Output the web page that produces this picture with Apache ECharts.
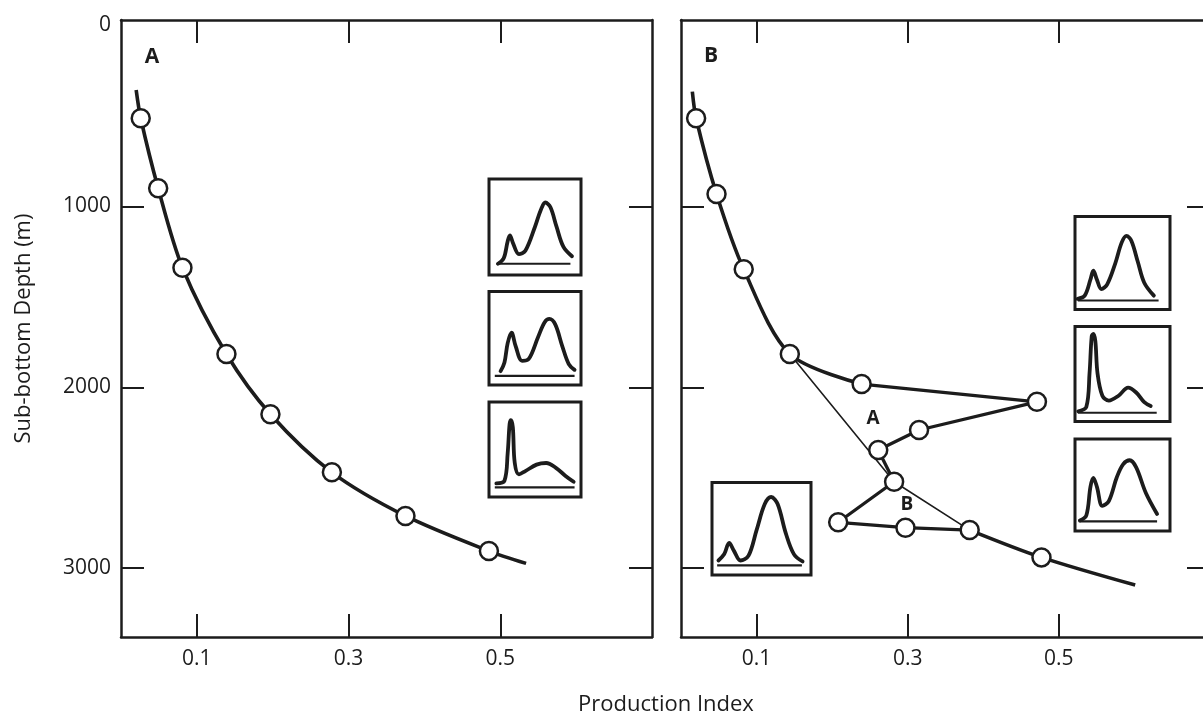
<!DOCTYPE html>
<html>
<head>
<meta charset="utf-8">
<script src="https://cdn.jsdelivr.net/npm/echarts@6/dist/echarts.min.js"></script>
<style>
  html, body { margin: 0; padding: 0; background: #ffffff; }
  #chart { width: 1203px; height: 717px; }
</style>
</head>
<body>
<div id="chart"></div>
<script>
// ---- Axis ticks and labels ----
const depthTicks = [1000, 2000, 3000];
const depthLabels = [0, 1000, 2000, 3000];
const indexTicks = [0.1, 0.3, 0.5];

// ---- Panel A: production index samples with depth (m) ----
const wellA_index = [0.026, 0.049, 0.081, 0.139, 0.197, 0.278, 0.375, 0.485];
const wellA_depth = [513, 900, 1339, 1816, 2149, 2470, 2711, 2905];
const wellA_curveTop = [0.020, 357];
const wellA_curveBottom = [0.534, 2973];

// ---- Panel B: samples in depth order (with the two excursions) ----
const wellB_index = [0.020, 0.047, 0.083, 0.144, 0.239, 0.471, 0.315, 0.261, 0.282, 0.208, 0.297, 0.382, 0.477];
const wellB_depth = [513, 932, 1348, 1816, 1982, 2080, 2236, 2346, 2522, 2746, 2776, 2789, 2940];
const wellB_curveTop = [0.015, 366];
const wellB_curveBottom = [0.601, 3093];
// normal trend across the excursions
const wellB_trendIndex = [0.144, 0.282, 0.382];
const wellB_trendDepth = [1816, 2522, 2789];
// zone labels
const zoneNames = ['A', 'B'];
const zoneIndex = [0.254, 0.299];
const zoneDepth = [2171, 2647];

// ---- Pyrolysis traces for the inset boxes: [x, signal] in box units (0-100) ----
const traceA1 = [[9.8,11.7],[16,17.4],[20.3,35.2],[22.7,41.3],[26.2,32.9],[32.5,21.8],[39.5,25.2],[50,50.3],[56.3,67.8],[61.2,75.5],[66.8,70.5],[73.4,50.3],[80.8,29.5],[90.2,19.5]];
const traceA2 = [[12.6,14.8],[16.8,24.1],[20.3,44.8],[24.5,55.9],[29,41.4],[36,25.9],[43,27.6],[53.5,51.7],[60.5,67.2],[65.7,70.7],[72,64.8],[79.7,41.4],[86.7,22.4],[93,16.2]];
const traceA3 = [[8,14.3],[16.8,17.1],[20.3,46.1],[22.4,76.8],[23.8,80.9],[25.9,73.4],[28,35.8],[32.5,23.9],[39.5,27.3],[51.7,34.1],[62.2,35.8],[72.7,30.7],[83.2,22.2],[92,16]];
const traceB1 = [[2.7,11.5],[10.2,14.9],[16.3,32.3],[19.3,41.7],[23,32.3],[27.8,21.9],[33.9,27.1],[42.4,49.7],[49.2,72.2],[54.2,79.2],[59.3,74],[66.1,51.4],[72.9,28.8],[83,14.9]];
const traceB2 = [[3.4,10.8],[11.9,15.3],[15.3,50.8],[17.6,89.8],[19.3,92.2],[21.4,84.7],[23.7,50.8],[28.8,27.1],[35.6,22],[45.8,27.1],[55.9,35.6],[64.4,30.5],[72.9,20.3],[79.7,16.3]];
const traceB3 = [[5.1,11.5],[11.9,16.8],[16.3,48.3],[19.3,57.7],[23,48.3],[28.8,27.3],[35.6,32.5],[44.1,58.7],[50.8,72.7],[57.6,76.9],[64.4,69.2],[74.6,41.3],[86.4,18.5]];
const traceB4 = [[6.5,15.7],[12.4,22.6],[17.3,34.8],[22.2,26.1],[28.8,15.7],[36.9,20.9],[45.1,48.8],[53.3,76.7],[59.8,84.3],[66.3,76.7],[74.5,45.3],[82.7,22.6],[91.5,14.6]];
// baselines: [level, from, to]
const baseA1 = [11.7, 8, 88.5];
const baseA2 = [9.7, 6.3, 93];
const baseA3 = [10.2, 6.3, 93];
const baseB1 = [9.7, 3, 88];
const baseB2 = [9.2, 3, 86];
const baseB3 = [10.5, 5, 86.4];
const baseB4 = [10.5, 5.2, 90.8];

// ---- styling ----
const ink = '#1c1c1c';
const font = "'Open Sans', 'Noto Sans', sans-serif";

const pairs = (xs, ys) => xs.map((x, i) => [x, ys[i]]);
const pointsA = pairs(wellA_index, wellA_depth);
const pointsB = pairs(wellB_index, wellB_depth);

// main panels
const panels = [
  { left: 121, top: 20, width: 531, height: 617, labels: true },
  { left: 681, top: 20, width: 529, height: 617, labels: false }
];
// inset boxes
const insets = [
  { left: 489, top: 179, width: 92, height: 96, trace: traceA1, base: baseA1 },
  { left: 489, top: 291.5, width: 92, height: 93.5, trace: traceA2, base: baseA2 },
  { left: 489, top: 402, width: 92, height: 95, trace: traceA3, base: baseA3 },
  { left: 1075, top: 216.5, width: 95, height: 93, trace: traceB1, base: baseB1 },
  { left: 1075, top: 326.5, width: 95, height: 95, trace: traceB2, base: baseB2 },
  { left: 1075, top: 439, width: 95, height: 92, trace: traceB3, base: baseB3 },
  { left: 712, top: 482.5, width: 99, height: 92.5, trace: traceB4, base: baseB4 }
];

const grid = [], xAxis = [], yAxis = [], series = [];

const frameLine = { show: true, onZero: false, lineStyle: { color: ink, width: 2.5 } };
const tickStyle = (vals) => ({ show: true, inside: true, length: 23, customValues: vals, lineStyle: { color: ink, width: 2 } });
const labelStyle = { color: ink, fontSize: 21, fontFamily: font, formatter: (v) => String(v) };

panels.forEach((p, gi) => {
  grid.push({ left: p.left, top: p.top, width: p.width, height: p.height, outerBoundsMode: 'none', containLabel: false });
  // bottom and top index axes
  xAxis.push({
    type: 'value', gridIndex: gi, position: 'bottom', min: 0, max: 0.70,
    axisLine: frameLine, axisTick: tickStyle(indexTicks),
    axisLabel: Object.assign({ show: true, customValues: indexTicks, margin: 12 }, labelStyle),
    splitLine: { show: false }
  });
  xAxis.push({
    type: 'value', gridIndex: gi, position: 'top', min: 0, max: 0.70,
    axisLine: frameLine, axisTick: tickStyle(indexTicks),
    axisLabel: { show: false }, splitLine: { show: false }
  });
  // left and right depth axes
  yAxis.push({
    type: 'value', gridIndex: gi, position: 'left', inverse: true, min: -30, max: 3380,
    axisLine: frameLine, axisTick: tickStyle(depthTicks),
    axisLabel: p.labels ? Object.assign({ show: true, customValues: depthLabels, margin: 10 }, labelStyle) : { show: false },
    splitLine: { show: false },
    name: p.labels ? 'Sub-bottom Depth (m)' : '',
    nameLocation: 'middle', nameGap: 86,
    nameTextStyle: { color: ink, fontSize: 22, fontFamily: font }
  });
  yAxis.push({
    type: 'value', gridIndex: gi, position: 'right', inverse: true, min: -30, max: 3380,
    axisLine: frameLine, axisTick: tickStyle(depthTicks),
    axisLabel: { show: false }, splitLine: { show: false }
  });
});

const curve = (xi, yi, data, smooth, width) => ({
  type: 'line', xAxisIndex: xi, yAxisIndex: yi, data, smooth,
  showSymbol: false, symbol: 'none', silent: true, z: 3,
  lineStyle: { color: ink, width }
});
const circles = (xi, yi, data) => ({
  type: 'scatter', xAxisIndex: xi, yAxisIndex: yi, data, symbol: 'circle', symbolSize: 18, z: 5,
  itemStyle: { color: '#ffffff', borderColor: ink, borderWidth: 2.5, opacity: 1 }
});

// Panel A
series.push(curve(0, 0, [wellA_curveTop, ...pointsA, wellA_curveBottom], 0.3, 3.6));
series.push(circles(0, 0, pointsA));

// Panel B: upper curve, excursion polyline, lower curve
series.push(curve(2, 2, [wellB_curveTop, ...pointsB.slice(0, 5)], 0.3, 3.6));
series.push(curve(2, 2, pointsB.slice(4, 12), false, 3.3));
series.push(curve(2, 2, [...pointsB.slice(11), wellB_curveBottom], 0.3, 3.6));
series.push(curve(2, 2, pairs(wellB_trendIndex, wellB_trendDepth), false, 1.6));
series.push(circles(2, 2, pointsB));
series.push({
  type: 'scatter', xAxisIndex: 2, yAxisIndex: 2, symbolSize: 1, z: 6, silent: true,
  itemStyle: { opacity: 0 },
  data: zoneNames.map((n, i) => ({ name: n, value: [zoneIndex[i], zoneDepth[i]] })),
  label: { show: true, position: 'inside', formatter: '{b}', color: ink, opacity: 1,
           fontSize: 19, fontWeight: 'bold', fontFamily: font }
});

// inset boxes: grid index follows the two main panels, axis index follows their four axes each
insets.forEach((b, k) => {
  const gi = panels.length + k;
  const ai = panels.length * 2 + k;
  grid.push({ left: b.left, top: b.top, width: b.width, height: b.height, outerBoundsMode: 'none', containLabel: false,
              show: true, borderColor: ink, borderWidth: 3, backgroundColor: '#ffffff', z: 4 });
  xAxis.push({ type: 'value', gridIndex: gi, min: 0, max: 100, show: false });
  yAxis.push({ type: 'value', gridIndex: gi, min: 0, max: 100, show: false });
  series.push({ type: 'line', xAxisIndex: ai, yAxisIndex: ai, data: b.trace, smooth: 0.35, showSymbol: false, symbol: 'none', z: 7,
                lineStyle: { color: ink, width: 3.8, cap: 'round', join: 'round' } });
  series.push({ type: 'line', xAxisIndex: ai, yAxisIndex: ai, data: [[b.base[1], b.base[0]], [b.base[2], b.base[0]]], showSymbol: false, symbol: 'none', z: 7,
                lineStyle: { color: ink, width: 2.2 } });
});

const chart = echarts.init(document.getElementById('chart'), null, { renderer: 'canvas' });
chart.setOption({
  backgroundColor: '#ffffff',
  animation: false,
  grid, xAxis, yAxis, series,
  graphic: [
    { type: 'text', x: 152, y: 57, style: { text: 'A', fill: ink, fontSize: 21, fontWeight: 'bold', fontFamily: font, textAlign: 'center', textVerticalAlign: 'middle' } },
    { type: 'text', x: 711, y: 56, style: { text: 'B', fill: ink, fontSize: 21, fontWeight: 'bold', fontFamily: font, textAlign: 'center', textVerticalAlign: 'middle' } },
    { type: 'text', x: 666, y: 705, style: { text: 'Production Index', fill: ink, fontSize: 22, fontFamily: font, textAlign: 'center', textVerticalAlign: 'middle' } }
  ]
});
</script>
</body>
</html>
